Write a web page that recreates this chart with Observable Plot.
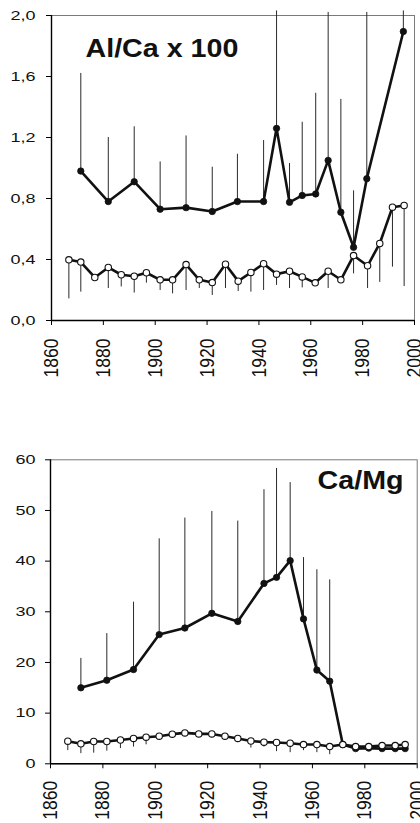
<!DOCTYPE html>
<html>
<head>
<meta charset="utf-8">
<script src="https://cdn.jsdelivr.net/npm/d3@7"></script>
<script src="https://cdn.jsdelivr.net/npm/@observablehq/plot@0.6"></script>
<style>
  html, body { margin: 0; padding: 0; background: #fff; overflow: hidden; }
  #top, #bottom { width: 420px; }
</style>
</head>
<body>
<div id="top"></div>
<div id="bottom"></div>
<script>
// ---------- Data ----------
const xTicks = [1860, 1880, 1900, 1920, 1940, 1960, 1980, 2000];
const alTicks = [0, 0.4, 0.8, 1.2, 1.6, 2.0];
const caTicks = [0, 10, 20, 30, 40, 50, 60];
const titleAl = "Al/Ca x 100";
const titleCa = "Ca/Mg";

// Al/Ca x 100 — filled series (error bars upward)
const alFilledYears = [1871.3, 1881.9, 1891.9, 1901.9, 1911.9, 1922.0, 1931.7, 1941.8, 1946.8, 1951.8, 1956.7, 1961.9, 1966.7, 1971.6, 1976.5, 1981.6, 1995.7];
const alFilled      = [0.98, 0.78, 0.91, 0.73, 0.74, 0.715, 0.78, 0.78, 1.26, 0.775, 0.82, 0.83, 1.05, 0.71, 0.48, 0.93, 1.895];
const alFilledHi    = [1.62, 1.20, 1.27, 1.04, 1.21, 1.005, 1.09, 1.18, 2.03, 1.03, 1.30, 1.49, 2.02, 1.45, 0.85, 2.02, 2.03];

// Al/Ca x 100 — open series (error bars downward)
const alOpenYears = [1866.7, 1871.3, 1876.7, 1881.9, 1886.9, 1891.9, 1896.6, 1901.9, 1906.7, 1911.9, 1917.0, 1922.0, 1927.1, 1932.0, 1936.9, 1941.8, 1946.8, 1951.8, 1956.7, 1961.7, 1966.7, 1971.6, 1976.5, 1981.9, 1986.6, 1991.5, 1996.0];
const alOpen      = [0.398, 0.383, 0.282, 0.348, 0.30, 0.29, 0.313, 0.267, 0.267, 0.367, 0.267, 0.249, 0.369, 0.258, 0.315, 0.372, 0.304, 0.323, 0.286, 0.247, 0.323, 0.267, 0.426, 0.359, 0.505, 0.743, 0.754];
const alOpenLo    = [0.142, 0.186, 0.26, 0.21, 0.22, 0.18, 0.245, 0.197, 0.175, 0.197, 0.21, 0.164, 0.21, 0.19, 0.186, 0.197, 0.23, 0.21, 0.214, 0.24, 0.21, 0.26, 0.306, 0.21, 0.25, 0.35, 0.223];

// Ca/Mg — filled series
const caFilledYears = [1871.6, 1881.5, 1891.7, 1901.5, 1911.3, 1921.6, 1931.5, 1941.5, 1946.3, 1951.5, 1956.6, 1961.7, 1966.6, 1971.6, 1976.5, 1981.5, 1986.6, 1991.6, 1995.4];
const caFilled      = [15.0, 16.5, 18.6, 25.5, 26.8, 29.7, 28.1, 35.6, 36.8, 40.1, 28.6, 18.5, 16.3, 3.8, 3.0, 3.1, 3.0, 3.0, 3.0];
const caFilledHi    = [20.8, 25.7, 31.9, 44.4, 48.5, 49.8, 47.9, 54.1, 58.3, 55.5, 40.7, 38.3, 36.3, null, null, null, null, null, null];

// Ca/Mg — open series
const caOpenYears = [1866.6, 1871.6, 1876.5, 1881.5, 1886.7, 1891.7, 1896.5, 1901.5, 1906.5, 1911.3, 1916.6, 1921.6, 1926.6, 1931.5, 1936.5, 1941.5, 1946.3, 1951.5, 1956.6, 1961.7, 1966.6, 1971.6, 1976.5, 1981.5, 1986.6, 1991.6, 1995.4];
const caOpen      = [4.46, 3.95, 4.4, 4.4, 4.7, 5.0, 5.25, 5.45, 5.85, 6.1, 5.9, 5.9, 5.45, 5.0, 4.5, 4.27, 4.2, 4.07, 3.8, 3.8, 3.4, 3.8, 3.4, 3.4, 3.6, 3.6, 3.8];
const caOpenLo    = [2.6, 2.0, 2.1, 2.5, 3.0, 3.3, 3.75, null, null, null, null, null, null, null, 3.1, 3.3, 2.4, 2.2, 2.6, 2.2, 1.8, null, null, null, null, null, null];

// ---------- Helpers ----------
const rows = (years, vals, ext) => years.map((year, i) => ({year, v: vals[i], e: ext ? ext[i] : null}));
const fmtComma = d => d.toFixed(1).replace(".", ",");
const FONT = "'Liberation Sans', Arial, Helvetica, sans-serif";

function stretch(root, selector, sx, sy) {
  root.querySelectorAll(selector).forEach(t => {
    const tr = t.getAttribute("transform");
    if (tr) {
      t.setAttribute("transform", tr + ` scale(${sx},${sy})`);
    } else {
      const x = t.getAttribute("x"), y = t.getAttribute("y");
      const numX = x != null && !/[a-z%]/i.test(x);
      const numY = y != null && !/[a-z%]/i.test(y);
      const nx = numX ? +x : 0, ny = numY ? +y : 0;
      if (numX) t.setAttribute("x", 0);
      if (numY) t.setAttribute("y", 0);
      t.setAttribute("transform", `translate(${nx},${ny}) scale(${sx},${sy})`);
    }
  });
}

function panel({filled, open, yDomain, yTicks, yFormat, height, mt, mb, ml, mr, ypad, xpad, title}) {
  const bars = filled.filter(d => d.e != null);
  const lows = open.filter(d => d.e != null);
  const svg = Plot.plot({
    width: 420,
    height,
    marginTop: mt, marginBottom: mb, marginLeft: ml, marginRight: mr,
    style: {fontFamily: FONT, fontSize: "12.6px", color: "#000", background: "#fff", overflow: "visible"},
    x: {domain: [1860, 2000]},
    y: {domain: yDomain},
    marks: [
      Plot.frame({stroke: "#7a7a7a", strokeWidth: 1}),
      Plot.axisX({ticks: xTicks, tickFormat: d => String(d), tickRotate: -90, tickSize: 5, tickPadding: xpad,
        fontSize: 17.5, label: null, stroke: "#000", fill: "#111"}),
      Plot.axisY({ticks: yTicks, tickFormat: yFormat, tickSize: 5, tickPadding: ypad,
        fontSize: 12.6, label: null, stroke: "#000", fill: "#111"}),
      Plot.ruleY([yDomain[0]], {stroke: "#000", strokeWidth: 1.4}),
      Plot.ruleX([1860], {stroke: "#000", strokeWidth: 1.4}),
      Plot.ruleX(bars, {x: "year", y1: "v", y2: "e", stroke: "#2a2a2a", strokeWidth: 1}),
      Plot.ruleX(lows, {x: "year", y1: "v", y2: "e", stroke: "#2a2a2a", strokeWidth: 1}),
      Plot.line(filled, {x: "year", y: "v", stroke: "#111", strokeWidth: 2.6, strokeLinejoin: "round"}),
      Plot.line(open, {x: "year", y: "v", stroke: "#111", strokeWidth: 2.6, strokeLinejoin: "round"}),
      Plot.dot(filled, {x: "year", y: "v", r: 3.2, fill: "#111", stroke: "#111", strokeWidth: 0.8}),
      Plot.dot(open, {x: "year", y: "v", r: 3.2, fill: "#fff", stroke: "#111", strokeWidth: 1.1}),
      Plot.text([title.text], {text: d => d, frameAnchor: title.anchor, textAnchor: title.textAnchor, lineAnchor: "bottom",
        dx: title.dx, dy: title.dy, fontSize: 25.6, fontWeight: "bold", fill: "#111"})
    ]
  });
  stretch(svg, 'g[aria-label^="x-axis tick label"] text', 1, 1.18);
  stretch(svg, 'g[aria-label^="y-axis tick label"] text', 1.43, 1);
  stretch(svg, 'g[aria-label="text"] text', 1.12, 1);
  return svg;
}

document.getElementById("top").append(panel({
  filled: rows(alFilledYears, alFilled, alFilledHi),
  open: rows(alOpenYears, alOpen, alOpenLo),
  yDomain: [0, 2], yTicks: alTicks, yFormat: fmtComma,
  height: 400, mt: 15, mb: 80, ml: 51, mr: 6, ypad: 11, xpad: 13,
  title: {text: titleAl, anchor: "top-left", textAnchor: "start", dx: 34, dy: 41.7}
}));

document.getElementById("bottom").append(panel({
  filled: rows(caFilledYears, caFilled, caFilledHi),
  open: rows(caOpenYears, caOpen, caOpenLo),
  yDomain: [0, 60], yTicks: caTicks, yFormat: d => String(d),
  height: 423, mt: 59.3, mb: 59.7, ml: 50, mr: 3.3, ypad: 10, xpad: 12,
  title: {text: titleCa, anchor: "top-right", textAnchor: "end", dx: -13.7, dy: 28.7}
}));
</script>
</body>
</html>
